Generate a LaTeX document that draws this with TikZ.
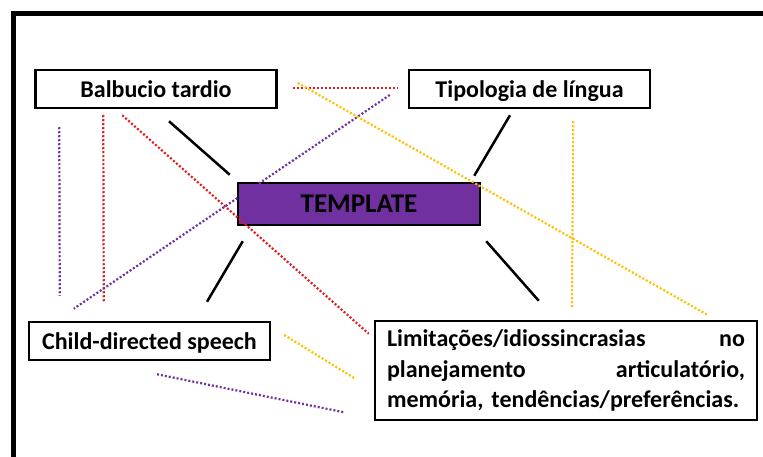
\documentclass[tikz,border=0pt]{standalone}
\usepackage{fontspec}
\setmainfont{Carlito}
\usetikzlibrary{arrows,shapes}
\definecolor{tplpurple}{HTML}{7030A0}
\definecolor{tplred}{HTML}{E41C1C}
\definecolor{tplyellow}{HTML}{FFC000}
\tikzstyle{topic}=[rectangle, draw
,line width=2.5pt
,fill=white
,inner sep=0pt
,font=\bfseries\fontsize{24}{30.5}\selectfont
]
\tikzstyle{short topic} = [topic, text height=17pt, text depth=0pt, minimum height=38pt]
\tikzstyle{template topic} = [short topic, fill=tplpurple, font=\bfseries\fontsize{27}{30}\selectfont]
\tikzstyle{edge} = [draw,line width=2.5pt,-]
\tikzstyle{link} = [draw,line width=2.2pt,dash pattern=on 2pt off 2pt]

\begin{document}
\begin{tikzpicture}[x=1pt,y=-1pt]
    \useasboundingbox (0,0) rectangle (763,457);
    % Frame of the slide
    \draw[line width=4.5pt] (13.5,457) -- (13.5,13.5) -- (763,13.5);

    % First we draw the topics
    \foreach \pos/\name/\txt in {{(156,89)/balbucio/Balbucio tardio}, {(529.5,89)/tipologia/Tipologia de língua}, {(149.5,341)/child/Child-directed speech}}
        \node[short topic, minimum width=241pt] (\name) at \pos {\txt};

    \node[template topic, minimum width=242pt, minimum height=42pt] (template) at (359,204) {TEMPLATE};

    \node[topic, minimum width=382pt, minimum height=99pt, text width=358pt, align=left] (limit) at (566,370.5)
        {Limitações/idiossincrasias\hfill no\\planejamento\hfill articulatório,\\memória, tendências/preferências.};

    % Connect the topics with the template
    \path[edge] ([shift={(13,12)}]balbucio.south) -- ([shift={(-7,-7)}]template.north west);
    \path[edge] ([shift={(-19.5,6)}]tipologia.south) -- ([shift={(-7,-6)}]template.north east);
    \path[edge] ([shift={(6,15)}]template.south west) -- ([shift={(57.5,-19)}]child.north);
    \path[edge] ([shift={(5,15)}]template.south east) -- ([shift={(165,-19)}]limit.north west);

    % Dotted links between the topics
    \path[link, tplred] ([shift={(15,-1)}]balbucio.east) -- ([shift={(-10,-1)}]tipologia.west);
    \path[link, tplred] ([shift={(69,6)}]balbucio.south west) -- ([shift={(76,-19)}]child.north west);
    \path[link, tplred] ([shift={(88,6)}]balbucio.south west) -- ([shift={(-5,14)}]limit.north west);
    \path[link, tplpurple] ([shift={(25,18)}]balbucio.south west) -- ([shift={(32,-25)}]child.north west);
    \path[link, tplpurple] ([shift={(-18,6)}]tipologia.west) -- ([shift={(46,-12)}]child.north west);
    \path[link, tplpurple] ([shift={(7.5,13)}]child.south) -- ([shift={(-30,-9)}]limit.south west);
    \path[link, tplyellow] ([shift={(20,-6)}]balbucio.east) -- ([shift={(-51,-5)}]limit.north east);
    \path[link, tplyellow] ([shift={(-78,12)}]tipologia.south east) -- ([shift={(6,-12)}]limit.north);
    \path[link, tplyellow] ([shift={(13,-6)}]child.east) -- ([shift={(-18,8.5)}]limit.west);
\end{tikzpicture}
\end{document}
